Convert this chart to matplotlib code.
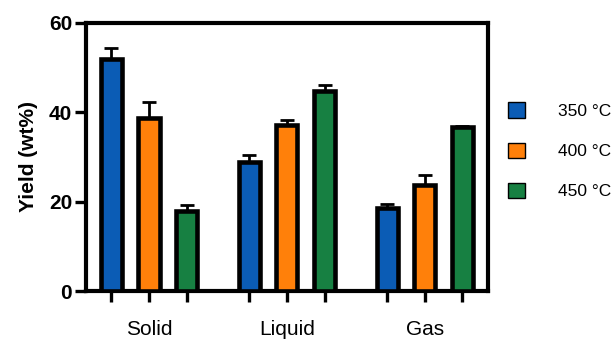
import numpy as np
import matplotlib
matplotlib.use("Agg")
import matplotlib.pyplot as plt
from matplotlib.patches import Patch

plt.rcParams['font.family'] = ['Liberation Sans', 'DejaVu Sans']

phases = ["Solid", "Liquid", "Gas"]
temps = ["350 °C", "400 °C", "450 °C"]
colors = ["#0b5cb5", "#ff800a", "#178042"]

# yields (wt%) per temperature, ordered Solid / Liquid / Gas
y350 = [51.8, 28.8, 18.6]
y400 = [38.6, 37.0, 23.6]
y450 = [17.8, 44.7, 36.6]
e350 = [2.5, 1.6, 0.8]
e400 = [3.7, 1.2, 2.4]
e450 = [1.5, 1.3, 0.3]

vals = [y350, y400, y450]
errs = [e350, e400, e450]

fig = plt.figure(figsize=(6.12, 3.41), dpi=100)
ax = fig.add_axes([0.1405, 0.1466, 0.797 - 0.1405, 0.934 - 0.1466])

g = np.arange(len(phases))
off = 0.273
w = 0.153
ticks = []
for i in range(3):
    x = g + (i - 1) * off
    ticks.extend(x)
    ax.bar(x, vals[i], width=w, color=colors[i], edgecolor="black",
           linewidth=3.3, zorder=3)
    ax.errorbar(x, vals[i], yerr=[np.zeros(3), errs[i]], fmt="none",
                ecolor="black", elinewidth=2, capsize=5, capthick=2, zorder=2)

ax.set_xlim(-0.457, 2.457)
ax.set_ylim(0, 60)
ax.set_yticks([0, 20, 40, 60])
ax.set_yticklabels(["0", "20", "40", "60"], fontsize=15, fontweight="bold")
ax.set_xticks(sorted(ticks))
ax.set_xticklabels([])
for i, p in enumerate(phases):
    ax.text(g[i], -0.145, p, transform=ax.get_xaxis_transform(),
            ha="center", va="center", fontsize=15)

for s in ax.spines.values():
    s.set_linewidth(3)
ax.tick_params(axis="both", direction="out", length=8, width=2.4)
ax.tick_params(axis="y", pad=2)
ax.set_ylabel("Yield (wt%)", fontsize=15, fontweight="bold", labelpad=8)

handles = [Patch(facecolor=c, edgecolor="black", linewidth=1) for c in colors]
fig.legend(handles, temps, loc="upper left", bbox_to_anchor=(0.818, 0.72),
           frameon=False, fontsize=12.5, handlelength=1.0, handleheight=1.0,
           handletextpad=1.9, labelspacing=1.35, borderaxespad=0)

fig.savefig("out.png", dpi=100)
